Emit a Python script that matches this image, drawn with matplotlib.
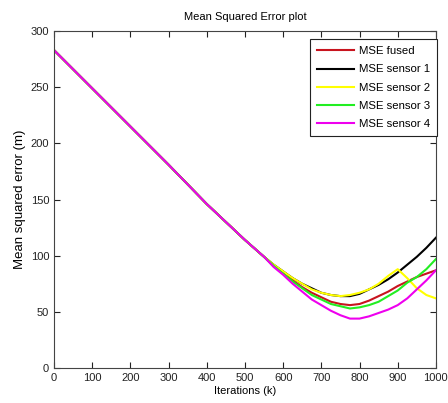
import numpy as np
import matplotlib
matplotlib.use("Agg")
import matplotlib.pyplot as plt

plt.rcParams['font.family'] = ['Liberation Sans', 'DejaVu Sans']

# shared descent 0..550
x_common = [0, 100, 200, 300, 400, 500, 550]
y_common = [283, 249, 215, 181, 146, 114, 99]

x_tail = [575, 600, 625, 650, 675, 700, 725, 750, 775, 800, 825, 850, 875, 900, 925, 950, 975, 1000]
mse_fused = [91, 85, 78, 72, 67, 63, 59, 57, 56, 57, 60, 64, 68, 73, 77, 81, 84, 87]
mse_s1 = [92, 86, 80, 75, 71, 67, 65, 64, 64, 66, 70, 74, 79, 85, 92, 99, 107, 116]
mse_s2 = [92, 86, 80, 75, 70, 67, 65, 64, 65, 67, 70, 75, 82, 88, 80, 71, 65, 62]
mse_s3 = [91, 84, 77, 71, 65, 61, 57, 55, 53, 54, 56, 59, 64, 69, 76, 81, 88, 97]
mse_s4 = [90, 83, 75, 68, 61, 56, 51, 47, 44, 44, 46, 49, 52, 56, 62, 70, 78, 87]

labels = ['MSE fused', 'MSE sensor 1', 'MSE sensor 2', 'MSE sensor 3', 'MSE sensor 4']
colors = ['#c8141e', '#000000', '#ffff00', '#22ee22', '#ee00ee']
series = [mse_fused, mse_s1, mse_s2, mse_s3, mse_s4]

fig = plt.figure(figsize=(4.48, 4.03), dpi=100)
ax = fig.add_axes([0.1205, 0.0868, 0.8525, 0.8362])

x = np.array(x_common + x_tail)
for lab, col, s in zip(labels, colors, series):
    ax.plot(x, y_common + s, color=col, lw=1.5, label=lab)

ax.set_xlim(0, 1000)
ax.set_ylim(0, 300)
ax.set_xticks(np.arange(0, 1001, 100))
ax.set_yticks(np.arange(0, 301, 50))
ax.tick_params(direction='in', top=True, right=True, labelsize=8, length=4, colors='#222222')
for sp in ax.spines.values():
    sp.set_color('#444444')
ax.set_title("Mean Squared Error plot", fontsize=8, pad=8)
ax.set_xlabel("Iterations (k)", fontsize=8, labelpad=2)
ax.set_ylabel("Mean squared error (m)", fontsize=9.5, labelpad=3)

leg = ax.legend(loc='upper right', bbox_to_anchor=(1.002, 0.975), borderaxespad=0,
                fontsize=8.2, fancybox=False, framealpha=1, handletextpad=0.4,
                handlelength=3.3, labelspacing=0.72, borderpad=0.6)
leg.get_frame().set_edgecolor('#222222')
leg.get_frame().set_linewidth(0.8)

plt.savefig("out.png", dpi=100)
